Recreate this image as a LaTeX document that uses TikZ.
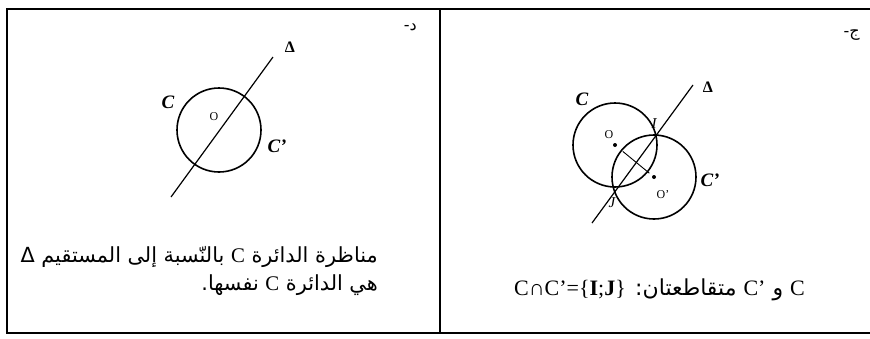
\documentclass[tikz,border=0pt]{standalone}
\usepackage{fontspec}
\setmainfont{Liberation Serif}
\newfontfamily\arabicfont[Script=Arabic]{DejaVu Sans}
\TeXXeTstate=1
\usetikzlibrary{calc}

\begin{document}
\begin{tikzpicture}[x=1pt,y=-1pt,
  frame/.style={line width=1.8pt},
  circ/.style={line width=1.6pt},
  axis/.style={line width=1.2pt},
  lbl/.style={inner sep=0pt,font=\fontsize{19}{19}\selectfont\bfseries\itshape},
  dlt/.style={inner sep=0pt,font=\fontsize{16}{16}\selectfont\bfseries},
  ctr/.style={inner sep=0pt,font=\fontsize{12}{12}\selectfont},
  txt/.style={inner sep=0pt,anchor=east,font=\fontsize{20.8}{21}\selectfont\arabicfont}]
\useasboundingbox (0,0) rectangle (870,338);
% frame
\draw[frame] (870,9) -- (7,9) -- (7,333) -- (870,333);
\draw[frame] (440,9) -- (440,333);
% left panel
\node[txt,font=\fontsize{16}{16}\selectfont\arabicfont] (hd) at (417,27) {\beginR د-\endR};
\coordinate (oa) at (219,130);
\coordinate (da) at (171,197);
\coordinate (db) at (273,57);
\draw[circ] (oa) circle[radius=42];
\draw[axis] (da) -- (db);
\node[dlt] (dla) at (290,47) {Δ};
\node[lbl] (ca) at (168,102) {C};
\node[lbl] (cpa) at (277,146) {C'};
\node[ctr] (ola) at (214,117) {O};
\node[txt] (ta) at (378,257) {\beginR مناظرة الدائرة {\rmfamily C} بالنّسبة إلى المستقيم Δ\endR};
\node[txt] (tb) at (378,285) {\beginR هي الدائرة {\rmfamily C} نفسها.\endR};
% right panel
\node[txt,font=\fontsize{16}{16}\selectfont\arabicfont] (hj) at (860,35) {\beginR ج-\endR};
\coordinate (o1) at (615,145);
\coordinate (o2) at (654,177);
\coordinate (ea) at (592,223);
\coordinate (eb) at (693,85);
\draw[circ] (o1) circle[radius=42];
\draw[circ] (o2) circle[radius=42];
\draw[axis] (ea) -- (eb);
\draw[line width=0.9pt] ($(o1)!0.2!(o2)$) -- ($(o1)!0.88!(o2)$);
\fill (o1) circle[radius=2];
\fill (o2) circle[radius=2];
\node[dlt] (dlb) at (708,87) {Δ};
\node[lbl] (cb) at (582,99) {C};
\node[lbl] (cpb) at (710,180) {C'};
\node[lbl,font=\fontsize{15}{15}\selectfont\itshape] (il) at (654,124) {I};
\node[lbl,font=\fontsize{15}{15}\selectfont\itshape] (jl) at (612,203) {J};
\node[ctr] (olb) at (609,135) {O};
\node[ctr] (olc) at (663,195) {O'};
\node[txt,font=\fontsize{22}{22}\selectfont\arabicfont] (tc) at (805,290) {\beginR {\rmfamily C} و {\rmfamily C'} متقاطعتان: \beginL{\rmfamily C∩C'=\{\textbf{I};\textbf{J}\}}\endL\endR};
\end{tikzpicture}
\end{document}
